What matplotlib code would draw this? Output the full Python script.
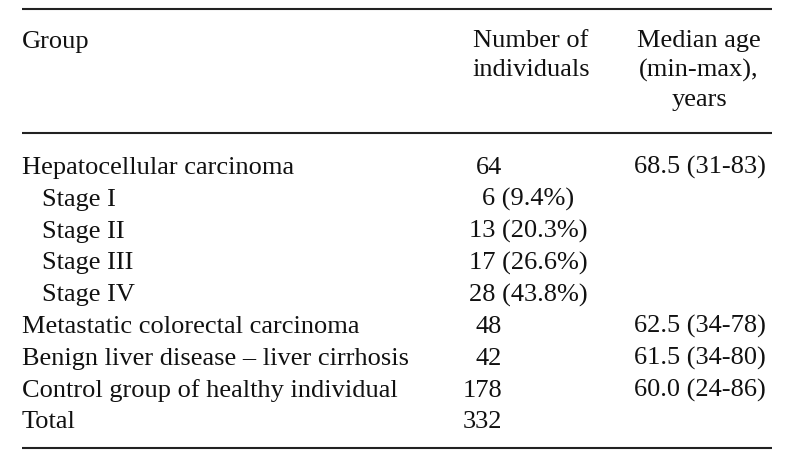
import matplotlib.pyplot as plt

# --- dados da tabela ---
grupos = ["Hepatocellular carcinoma", "Stage I", "Stage II", "Stage III", "Stage IV",
          "Metastatic colorectal carcinoma", "Benign liver disease \u2013 liver cirrhosis",
          "Control group of healthy individual", "Total"]
eh_estagio = [False, True, True, True, True, False, False, False, False]
n_individuos = ["64", "6 (9.4%)", "13 (20.3%)", "17 (26.6%)", "28 (43.8%)", "48", "42", "178", "332"]
idade_mediana = ["68.5 (31-83)", "", "", "", "", "62.5 (34-78)", "61.5 (34-80)", "60.0 (24-86)", ""]

cabecalho_grupo = "Group"
cabecalho_n = "Number of\nindividuals"
cabecalho_idade = "Median age\n(min-max),\nyears"

# --- figura em coordenadas de pixel ---
W, H = 793, 477
fig = plt.figure(figsize=(W / 100, H / 100), dpi=100)
ax = fig.add_axes([0, 0, 1, 1])
ax.set_xlim(0, W)
ax.set_ylim(H, 0)
ax.axis("off")

fonte = dict(family="Liberation Serif", fontsize=19, color="#111111")

# linhas horizontais da tabela
for y in (10, 134, 449):
    ax.plot([22, 772], [y, y], color="#222222", lw=1.5, solid_capstyle="butt")

# cabeçalho (texto multilinha ancorado pelo topo)
ax.text(22, 48, cabecalho_grupo, ha="left", va="baseline", **fonte)
ax.text(531, 30, cabecalho_n, ha="center", va="top", linespacing=1.4,
        multialignment="center", **fonte)
ax.text(699, 30, cabecalho_idade, ha="center", va="top", linespacing=1.4,
        multialignment="center", **fonte)

# linhas de dados
for i, (g, est, n, idade) in enumerate(zip(grupos, eh_estagio, n_individuos, idade_mediana)):
    y = 174 + 31.8 * i
    ax.text(42 if est else 22, y, g, ha="left", va="baseline", **fonte)
    if est:
        ax.text(528, y, n, ha="center", va="baseline", **fonte)
    else:
        ax.text(502, y, n, ha="right", va="baseline", **fonte)
    if idade:
        ax.text(766, y, idade, ha="right", va="baseline", **fonte)

plt.savefig("out.png", dpi=100, facecolor="white")
